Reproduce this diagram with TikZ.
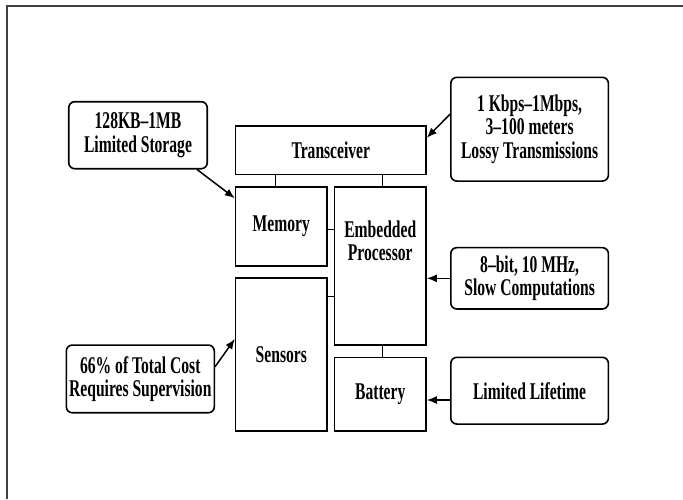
\documentclass[tikz,border=0pt]{standalone}
\usepackage{fontspec}
\setmainfont{Liberation Serif}[FakeStretch=0.65]
\usetikzlibrary{arrows.meta}

\begin{document}
\begin{tikzpicture}[x=1pt, y=-1pt, >={Latex[length=10pt,width=8pt]},
	font=\fontsize{24}{23.5}\selectfont\bfseries,
	unit/.style={draw, line width=1.6pt, inner sep=0pt},
	note/.style={draw, line width=1.6pt, rounded corners=6pt, align=center, inner sep=0pt},
	link/.style={line width=1pt},
	pointer/.style={->, line width=1.5pt}]
	% Cadre de la page
	\useasboundingbox (0,0) rectangle (683,499);
	\draw[line width=1.3pt, black!75] (7,499) -- (7,6) -- (683,6);
	% Blocs du noeud capteur
	\node[unit, minimum width=190.4pt, minimum height=48.7pt] (trans) at (330.8,150.3) {Transceiver};
	\node[unit, minimum width=91.4pt, minimum height=79pt] (mem) at (281.3,226.5) {Memory};
	\node[unit, minimum width=91.5pt, minimum height=158pt] (proc) at (380.25,266) {};
	\node[align=center] (proctxt) at ([yshift=-54.7pt]proc.north) {Embedded\\Processor};
	\node[unit, minimum width=91.4pt, minimum height=153pt] (sens) at (281.3,354.5) {Sensors};
	\node[unit, minimum width=91.5pt, minimum height=73.7pt] (batt) at (380.25,394.2) {Battery};
	% Remarques
	\node[note, minimum width=138.5pt, minimum height=67pt] (storage) at (138,135.2) {128KB--1MB\\Limited Storage};
	\node[note, minimum width=157.6pt, minimum height=103.7pt] (radio) at (529.6,129.2) {1 Kbps--1Mbps,\\3--100 meters\\Lossy Transmissions};
	\node[note, minimum width=157.6pt, minimum height=61.3pt] (speed) at (529.6,278.3) {8--bit, 10 MHz,\\Slow Computations};
	\node[note, minimum width=157.6pt, minimum height=66.7pt] (life) at (529.6,390.7) {Limited Lifetime};
	\node[note, minimum width=148pt, minimum height=67.7pt] (cost) at (140.3,378.9) {66\% of Total Cost\\Requires Supervision};
	% Liaisons internes
	\draw[link] ([xshift=-6pt]mem.north) -- ([xshift=-6pt]mem.north |- trans.south);
	\draw[link] ([xshift=2.1pt]proc.north) -- ([xshift=2.1pt]proc.north |- trans.south);
	\draw[link] ([yshift=-2.8pt]mem.east) -- ([yshift=-2.8pt]mem.east -| proc.west);
	\draw[link] ([yshift=58.5pt]sens.east) -- ([yshift=58.5pt]sens.east -| proc.west);
	\draw[link] ([xshift=2.1pt]proc.south) -- ([xshift=2.1pt]proc.south |- batt.north);
	% Fleches
	\draw[pointer] ([xshift=-11pt]storage.south east) -- ([yshift=-12pt]mem.north west);
	\draw[pointer] ([yshift=15pt]radio.west) -- ([yshift=12.6pt]trans.east);
	\draw[pointer] (speed.west) -- (speed.west -| proc.east);
	\draw[pointer] ([yshift=-9.3pt]life.west) -- ([yshift=-9.3pt]life.west -| batt.east);
	\draw[pointer] ([yshift=12.2pt]cost.east) -- ([yshift=15.5pt]sens.west);
\end{tikzpicture}
\end{document}
